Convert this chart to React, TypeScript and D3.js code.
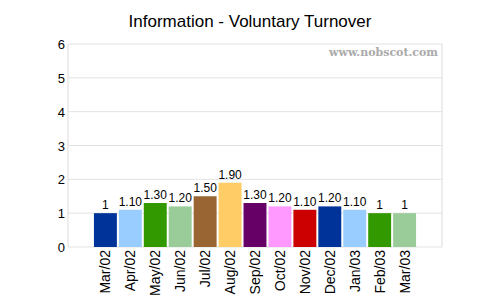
import React from "react";
import * as d3 from "d3";

const categories = ["Mar/02","Apr/02","May/02","Jun/02","Jul/02","Aug/02","Sep/02","Oct/02","Nov/02","Dec/02","Jan/03","Feb/03","Mar/03"];
const values = [1, 1.1, 1.3, 1.2, 1.5, 1.9, 1.3, 1.2, 1.1, 1.2, 1.1, 1, 1];
const valueLabels = ["1","1.10","1.30","1.20","1.50","1.90","1.30","1.20","1.10","1.20","1.10","1","1"];
const colors = ["#003399","#99ccff","#339900","#99cc99","#996633","#ffcc66","#660066","#ff99ff","#cc0000","#003399","#99ccff","#339900","#99cc99"];
const yTicks = [0, 1, 2, 3, 4, 5, 6];

export default function App() {
  const left = 68, right = 442, top = 44, bottom = 247;
  const slots = ["_pre", ...categories, "_post"];
  const x = d3.scaleBand().domain(slots).range([left, right]).paddingInner(0.08).paddingOuter(0.04);
  const y = d3.scaleLinear().domain([0, 6]).range([bottom, top]);
  const font = "Arial, 'Liberation Sans', sans-serif";
  return (
    <svg width={500} height={300} style={{ position: "absolute", left: 0, top: 0 }} fontFamily={font}>
      <rect width={500} height={300} fill="#fff" />
      <text x={250} y={27} textAnchor="middle" fontSize={17} fill="#000">Information - Voluntary Turnover</text>
      {yTicks.map(t => (
        <g key={t}>
          <line x1={left} x2={right} y1={y(t)} y2={y(t)} stroke="#e3e3e3" />
          <text x={65} y={y(t) + 5} textAnchor="end" fontSize={13} fill="#000">{t}</text>
        </g>
      ))}
      <line x1={left} x2={left} y1={top} y2={bottom} stroke="#dcdcdc" />
      <line x1={right} x2={right} y1={top} y2={bottom} stroke="#dcdcdc" />
      <text x={438} y={56} textAnchor="end" fontSize={11} fontWeight="bold" fontFamily="'DejaVu Serif', 'Liberation Serif', serif" fill="#aaa">www.nobscot.com</text>
      {categories.map((c, i) => {
        const bx = x(c)!;
        const bw = x.bandwidth();
        return (
          <g key={c}>
            <rect x={bx} y={y(values[i])} width={bw} height={y(0) - y(values[i])} fill={colors[i]} />
            <text x={bx + bw / 2} y={y(values[i]) - 4} textAnchor="middle" fontSize={12} fill="#000">{valueLabels[i]}</text>
            <text transform={`translate(${bx + bw / 2 + 5},${bottom + 3}) rotate(-90)`} textAnchor="end" fontSize={14} fill="#000">{c}</text>
          </g>
        );
      })}
    </svg>
  );
}
